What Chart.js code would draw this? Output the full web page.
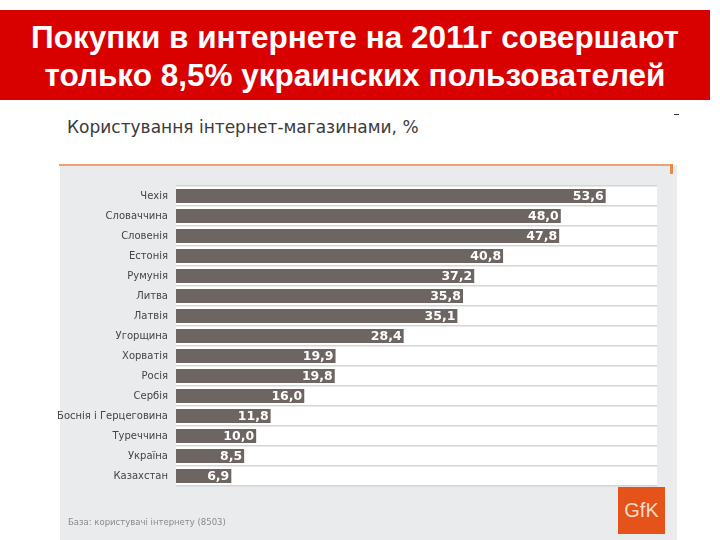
<!doctype html>
<html>
<head>
  <title>Користування інтернет-магазинами</title>
  <script src="https://cdn.jsdelivr.net/npm/chart.js@4/dist/chart.umd.min.js"></script>
  <style>
    body { margin: 0; background: #fff; }
    #page { position: relative; width: 720px; height: 540px; overflow: hidden; font-family: "DejaVu Sans", sans-serif; }
    #banner { position: absolute; left: 0; top: 10px; width: 710px; height: 90px; background: #d90000;
      color: #fff; font-family: "Liberation Sans", Arial, sans-serif; font-weight: bold; font-size: 31.5px;
      line-height: 38px; text-align: center; padding-top: 8px; box-sizing: border-box; }
    #title { position: absolute; left: 67px; top: 117px; font-size: 17px; color: #3a3a3a; }
    #dash { position: absolute; left: 674px; top: 114px; width: 5px; height: 1px; background: #333; }
    #panel { position: absolute; left: 60px; top: 165px; width: 617px; height: 375px; background: #e9ebec; }
    #rule { position: absolute; left: 59px; top: 164px; width: 614px; height: 2px; background: #f0a070; }
    #stub { position: absolute; left: 670px; top: 164px; width: 3px; height: 10px; background: #e98a4a; }
    #logo { position: absolute; left: 618px; top: 487px; width: 47px; height: 47px; background: #e5531a;
      color: #f8dcc4; font-family: "Liberation Sans", Arial, sans-serif; font-size: 20px; line-height: 47px; text-align: center; }
    #base { position: absolute; left: 68px; top: 517px; font-size: 8.5px; color: #8a8a8a; }
    #wrap { position: absolute; left: 0; top: 0; width: 720px; height: 540px; }
  </style>
</head>
<body>
<div id="page">
  <div id="banner">Покупки в интернете на 2011г совершают<br>только 8,5% украинских пользователей</div>
  <div id="title">Користування інтернет-магазинами, %</div>
  <div id="dash"></div>
  <div id="panel"></div>
  <div id="rule"></div>
  <div id="stub"></div>
  <div id="wrap"><canvas id="canvas" width="720" height="540"></canvas></div>
  <div id="logo">GfK</div>
  <div id="base">База: користувачі інтернету (8503)</div>
</div>

<script>
  var countries = ["Чехія", "Словаччина", "Словенія", "Естонія", "Румунія", "Литва", "Латвія", "Угорщина",
    "Хорватія", "Росія", "Сербія", "Боснія і Герцеговина", "Туреччина", "Україна", "Казахстан"];
  var shares = [53.6, 48.0, 47.8, 40.8, 37.2, 35.8, 35.1, 28.4, 19.9, 19.8, 16.0, 11.8, 10.0, 8.5, 6.9];

  // white plot background behind the bars
  var plotBg = {
    id: 'plotBg',
    beforeDraw: function (chart) {
      var a = chart.chartArea, c = chart.ctx;
      c.save();
      c.fillStyle = '#ffffff';
      c.fillRect(a.left, a.top, a.right - a.left, a.bottom - a.top);
      c.restore();
    }
  };

  // value written inside the end of each bar
  var barValues = {
    id: 'barValues',
    afterDatasetsDraw: function (chart) {
      var c = chart.ctx;
      var meta = chart.getDatasetMeta(0);
      c.save();
      c.fillStyle = '#ffffff';
      c.font = 'bold 12.5px "DejaVu Sans"';
      c.textAlign = 'right';
      c.textBaseline = 'middle';
      meta.data.forEach(function (bar, i) {
        c.fillText(shares[i].toFixed(1).replace('.', ','), bar.x - 2, bar.y + 1);
      });
      c.restore();
    }
  };

  var chart = new Chart(document.getElementById('canvas'), {
    type: 'bar',
    data: {
      labels: countries,
      datasets: [{
        data: shares,
        backgroundColor: '#6d6562',
        barPercentage: 0.7,
        categoryPercentage: 1.0
      }]
    },
    options: {
      indexAxis: 'y',
      responsive: false,
      animation: false,
      layout: { padding: { top: 186, bottom: 54, right: 63, left: 0 } },
      plugins: { legend: { display: false }, tooltip: { enabled: false } },
      scales: {
        x: { display: false, min: 0, max: 60 },
        y: {
          afterFit: function (axis) { axis.width = 176; },
          border: { display: false },
          grid: { offset: true, color: '#d4d4d4', lineWidth: 1.5, drawTicks: false },
          ticks: { color: '#444', font: { family: 'DejaVu Sans', size: 10 }, padding: 8 }
        }
      }
    },
    plugins: [plotBg, barValues]
  });
</script>
</body>
</html>
